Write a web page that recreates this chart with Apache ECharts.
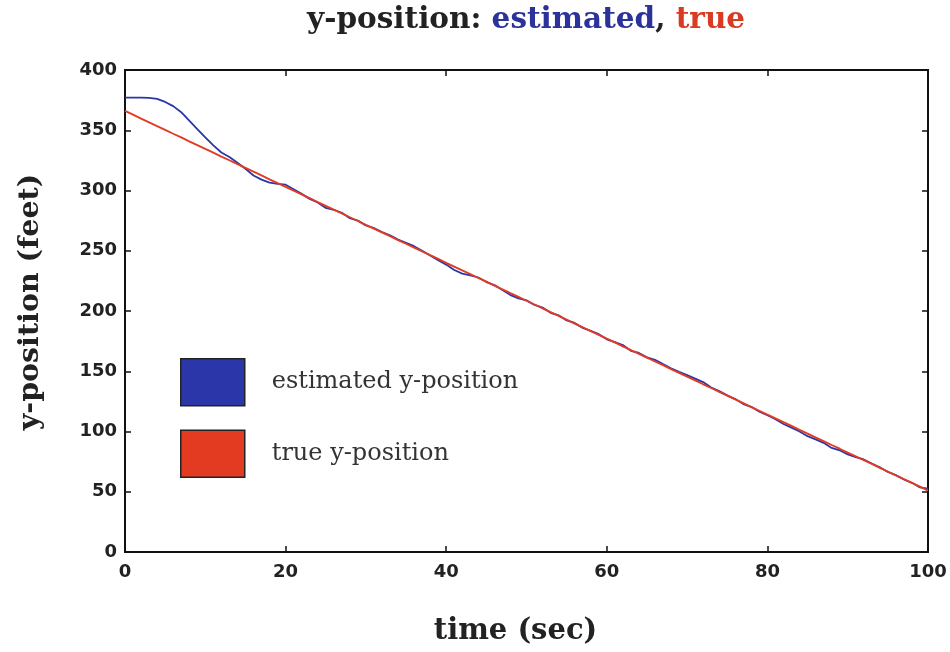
<!DOCTYPE html>
<html>
<head>
<meta charset="utf-8">
<script src="https://cdn.jsdelivr.net/npm/echarts@6/dist/echarts.min.js"></script>
<style>
  html, body { margin: 0; padding: 0; background: #fff; }
  #chart { width: 950px; height: 652px; }
</style>
</head>
<body>
<div id="chart"></div>
<script>
// Time stamps (sec) of the sampled track
const timeSec = [
  0, 1, 2, 3, 4, 5, 6, 7, 8, 9, 10, 11, 12, 13, 14, 15, 16, 17, 18, 19, 20,
  21, 22, 23, 24, 25, 26, 27, 28, 29, 30, 31, 32, 33, 34, 35, 36, 37, 38, 39, 40,
  41, 42, 43, 44, 45, 46, 47, 48, 49, 50, 51, 52, 53, 54, 55, 56, 57, 58, 59, 60,
  61, 62, 63, 64, 65, 66, 67, 68, 69, 70, 71, 72, 73, 74, 75, 76, 77, 78, 79, 80,
  81, 82, 83, 84, 85, 86, 87, 88, 89, 90, 91, 92, 93, 94, 95, 96, 97, 98, 99, 100
];

// Filter estimate of the y-position (feet)
const estimatedY = [
  377, 377, 377, 376.8, 376, 373.5, 370, 365, 358, 351, 344, 337.5, 331.5, 327.8, 323, 318, 312.5, 309, 306.5, 305.5, 304.8,
  301, 297.2, 293, 290, 285.5, 284, 281.5, 277, 275, 271, 268.8, 265.5, 262.8, 259.2, 256.5, 253.8, 250, 246, 242.2, 238.5,
  234, 231, 229.5, 227.8, 224, 221.6, 217.5, 213.2, 210.5, 208.8, 205, 202.9, 198.5, 196.4, 192.2, 190.1, 186, 183.5, 180.8, 176.5,
  174.2, 171.8, 167, 165.2, 161.5, 159.5, 155.9, 152.4, 149.5, 146.8, 143.9, 141, 136.5, 133.5, 130, 126.9, 122.8, 120.5, 116.4, 113.5,
  110.2, 106.2, 103.2, 100, 96.1, 93.4, 90.6, 86.4, 84.4, 81, 78.7, 76.8, 73.4, 70.3, 66.4, 63.8, 60.2, 57.4, 53.6, 52.6
];

// True y-position (feet)
const trueY = [
  366, 362.9, 359.7, 356.6, 353.4, 350.3, 347.1, 344.0, 340.8, 337.7, 334.5, 331.4, 328.2, 325.1, 321.9, 318.8, 315.6, 312.5, 309.3, 306.2, 303.0,
  299.9, 296.7, 293.6, 290.4, 287.3, 284.1, 281.0, 277.8, 274.7, 271.5, 268.4, 265.2, 262.1, 258.9, 255.8, 252.6, 249.5, 246.3, 243.2, 240.0,
  236.9, 233.7, 230.6, 227.4, 224.3, 221.1, 218.0, 214.8, 211.7, 208.5, 205.4, 202.2, 199.1, 195.9, 192.8, 189.6, 186.5, 183.3, 180.2, 177.0,
  173.9, 170.7, 167.6, 164.4, 161.3, 158.1, 155.0, 151.8, 148.7, 145.5, 142.4, 139.2, 136.1, 132.9, 129.8, 126.6, 123.5, 120.3, 117.2, 114.0,
  110.9, 107.7, 104.6, 101.4, 98.3, 95.1, 92.0, 88.8, 85.7, 82.5, 79.4, 76.2, 73.1, 69.9, 66.8, 63.6, 60.5, 57.3, 54.2, 51.0
];

const seriesNames = ['estimated y-position', 'true y-position'];
const seriesColors = ['#2b36a8', '#e23b22'];

const serif = "'DejaVu Serif', 'Liberation Serif', serif";
const sans = "'DejaVu Sans', 'Liberation Sans', sans-serif";

const pairs = (ys) => timeSec.map((t, i) => [t, ys[i]]);

const chart = echarts.init(document.getElementById('chart'), null, { renderer: 'canvas' });

const tickLabel = { fontFamily: sans, fontWeight: 'bold', fontSize: 18, color: '#222' };
const frameLine = { show: true, onZero: false, lineStyle: { color: '#111', width: 2 } };
const frameTick = { inside: true, length: 6, lineStyle: { color: '#111', width: 1.5 } };

chart.setOption({
  animation: false,
  backgroundColor: '#fff',
  title: {
    text: '{k|y-position: }{e|estimated}{k|, }{t|true}',
    left: 307,
    top: 5,
    padding: 0,
    textStyle: {
      rich: {
        k: { fontFamily: serif, fontWeight: 'bold', fontSize: 29.5, color: '#222' },
        e: { fontFamily: serif, fontWeight: 'bold', fontSize: 29.5, color: '#2b339a' },
        t: { fontFamily: serif, fontWeight: 'bold', fontSize: 29.5, color: '#d83a22' }
      }
    }
  },
  legend: {
    orient: 'vertical',
    left: 180,
    top: 358,
    padding: 0,
    itemWidth: 64,
    itemHeight: 47,
    itemGap: 23,
    icon: 'rect',
    data: seriesNames.map((n, i) => ({
      name: n,
      itemStyle: { color: seriesColors[i], borderColor: '#222', borderWidth: 1.5 }
    })),
    textStyle: { fontFamily: serif, fontSize: 24, color: '#333', padding: [0, 0, 0, 22] }
  },
  grid: {
    left: 125, right: 22, top: 70, bottom: 100,
    show: true, borderColor: '#111', borderWidth: 2
  },
  xAxis: [
    {
      type: 'value', min: 0, max: 100, interval: 20,
      name: 'time (sec)', nameLocation: 'middle', nameGap: 65,
      nameTextStyle: { fontFamily: serif, fontWeight: 'bold', fontSize: 29, color: '#222', padding: [0, 22, 0, 0] },
      axisLine: frameLine,
      axisTick: frameTick,
      axisLabel: Object.assign({ margin: 11 }, tickLabel),
      splitLine: { show: false }
    },
    {
      type: 'value', min: 0, max: 100, interval: 20, position: 'top',
      axisLine: frameLine,
      axisTick: frameTick,
      axisLabel: { show: false },
      splitLine: { show: false }
    }
  ],
  yAxis: [
    {
      type: 'value', min: 0, max: 400, interval: 50,
      name: 'y-position (feet)', nameLocation: 'middle', nameGap: 80, nameRotate: 90,
      nameTextStyle: { fontFamily: serif, fontWeight: 'bold', fontSize: 28.5, color: '#222', padding: [0, 0, 0, 18] },
      axisLine: frameLine,
      axisTick: frameTick,
      axisLabel: Object.assign({ margin: 8 }, tickLabel),
      splitLine: { show: false }
    },
    {
      type: 'value', min: 0, max: 400, interval: 50, position: 'right',
      axisLine: frameLine,
      axisTick: frameTick,
      axisLabel: { show: false },
      splitLine: { show: false }
    }
  ],
  series: [
    {
      name: seriesNames[0], type: 'line', data: pairs(estimatedY),
      showSymbol: false, symbol: 'none',
      lineStyle: { color: seriesColors[0], width: 1.8 },
      itemStyle: { color: seriesColors[0] },
      z: 2
    },
    {
      name: seriesNames[1], type: 'line', data: pairs(trueY),
      showSymbol: false, symbol: 'none',
      lineStyle: { color: seriesColors[1], width: 1.9 },
      itemStyle: { color: seriesColors[1] },
      z: 3
    }
  ]
});
</script>
</body>
</html>
